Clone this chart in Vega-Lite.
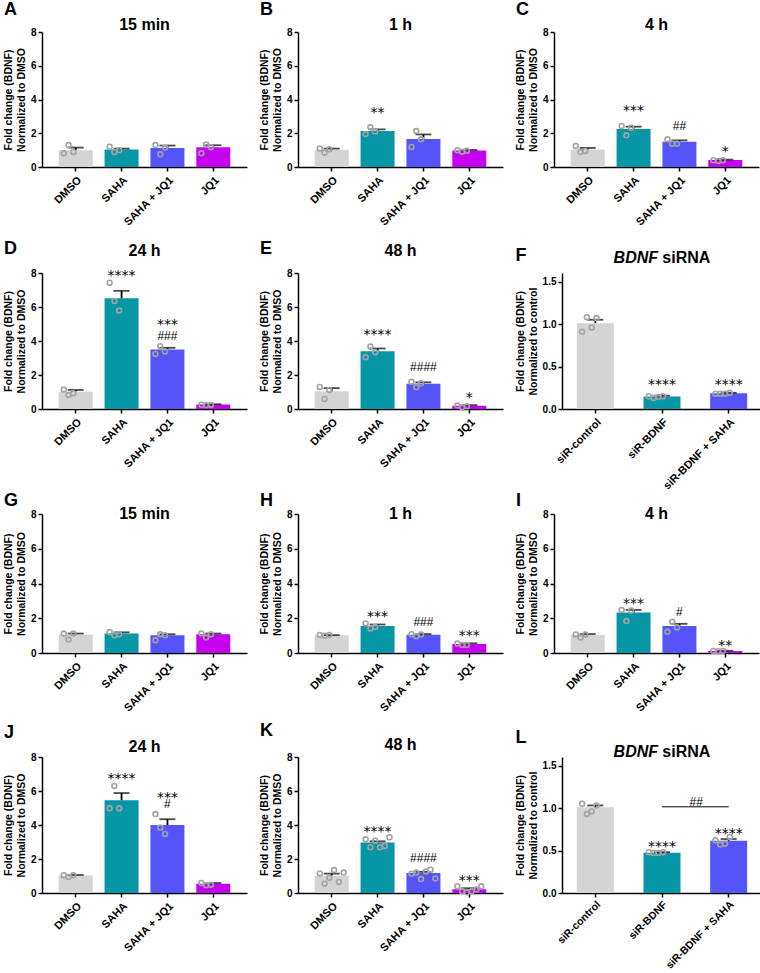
{
"$schema":"https://vega.github.io/schema/vega-lite/v6.json",
"background":"white",
"padding":{"left":3,"top":1,"right":2,"bottom":2},
"config":{
 "font":"Liberation Sans",
 "view":{"stroke":null},
 "axis":{"grid":false,"domainColor":"#000","domainWidth":1.5,"tickColor":"#000","tickWidth":1.5,"tickSize":4,"labelFont":"Liberation Sans","labelFontWeight":"bold","labelColor":"#000","titleFont":"Liberation Sans","titleFontWeight":"bold","titleColor":"#000"},
 "axisX":{"labelAngle":-45,"labelFontSize":11,"labelPadding":3},
 "axisY":{"labelFontSize":10,"titleFontSize":10.5,"titlePadding":4,"labelPadding":2,"labelOverlap":false,"tickCount":10},
 "title":{"font":"Liberation Sans","fontSize":18,"fontWeight":"bold","color":"#000","anchor":"start","frame":"bounds"},
 "bar":{"opacity":1},
 "rule":{"color":"#000","strokeWidth":1.8},
 "tick":{"color":"#000","thickness":1.8},
 "point":{"shape":"circle","filled":false,"color":"#a3a3a3","strokeWidth":1.6,"size":24,"opacity":1},
 "style":{
  "ast":{"font":"DejaVu Sans","fontSize":14,"fill":"#333","baseline":"alphabetic","dy":8},
  "hash":{"font":"Liberation Sans","fontSize":12,"fill":"#111","baseline":"alphabetic","dy":4},
  "ptitle":{"font":"Liberation Sans","fontSize":16,"fontWeight":"bold","fill":"#000","baseline":"middle","align":"center"}
 }
},
"datasets":{
 "bars":[
  {"p":"A","g":"DMSO","m":1.0,"s":0.15},{"p":"A","g":"SAHA","m":1.03,"s":0.06},{"p":"A","g":"SAHA + JQ1","m":1.12,"s":0.15},{"p":"A","g":"JQ1","m":1.17,"s":0.12},
  {"p":"B","g":"DMSO","m":1.02,"s":0.07},{"p":"B","g":"SAHA","m":2.13,"s":0.1,"a":"**","ay":3.43},{"p":"B","g":"SAHA + JQ1","m":1.66,"s":0.27},{"p":"B","g":"JQ1","m":0.98,"s":0.03},
  {"p":"C","g":"DMSO","m":1.04,"s":0.09},{"p":"C","g":"SAHA","m":2.25,"s":0.14,"a":"***","ay":3.57},{"p":"C","g":"SAHA + JQ1","m":1.5,"s":0.08,"h":"##","hy":2.43},{"p":"C","g":"JQ1","m":0.41,"s":0.03,"a":"*","ay":1.14},
  {"p":"D","g":"DMSO","m":1.02,"s":0.1},{"p":"D","g":"SAHA","m":6.52,"s":0.43,"a":"****","ay":8.08},{"p":"D","g":"SAHA + JQ1","m":3.5,"s":0.1,"a":"***","ay":5.15,"h":"###","hy":4.29},{"p":"D","g":"JQ1","m":0.26,"s":0.02},
  {"p":"E","g":"DMSO","m":1.04,"s":0.19},{"p":"E","g":"SAHA","m":3.4,"s":0.16,"a":"****","ay":4.6},{"p":"E","g":"SAHA + JQ1","m":1.49,"s":0.08,"h":"####","hy":2.45},{"p":"E","g":"JQ1","m":0.19,"s":0.04,"a":"*","ay":0.88},
  {"p":"F","g":"siR-control","m":1.01,"s":0.04},{"p":"F","g":"siR-BDNF","m":0.147,"s":0.01,"a":"****","ay":0.324},{"p":"F","g":"siR-BDNF + SAHA","m":0.185,"s":0.005,"a":"****","ay":0.324},
  {"p":"G","g":"DMSO","m":1.05,"s":0.07},{"p":"G","g":"SAHA","m":1.12,"s":0.07},{"p":"G","g":"SAHA + JQ1","m":1.02,"s":0.06},{"p":"G","g":"JQ1","m":1.08,"s":0.04},
  {"p":"H","g":"DMSO","m":1.02,"s":0.01},{"p":"H","g":"SAHA","m":1.56,"s":0.08,"a":"***","ay":2.28},{"p":"H","g":"SAHA + JQ1","m":1.05,"s":0.04,"h":"###","hy":1.8},{"p":"H","g":"JQ1","m":0.52,"s":0.04,"a":"***","ay":1.19},
  {"p":"I","g":"DMSO","m":1.03,"s":0.06},{"p":"I","g":"SAHA","m":2.33,"s":0.15,"a":"***","ay":3.05},{"p":"I","g":"SAHA + JQ1","m":1.55,"s":0.13,"h":"#","hy":2.37},{"p":"I","g":"JQ1","m":0.12,"s":0.01,"a":"**","ay":0.65},
  {"p":"J","g":"DMSO","m":1.03,"s":0.03},{"p":"J","g":"SAHA","m":5.46,"s":0.42,"a":"****","ay":6.94},{"p":"J","g":"SAHA + JQ1","m":4.0,"s":0.34,"a":"***","ay":5.85,"h":"#","hy":5.26},{"p":"J","g":"JQ1","m":0.55,"s":0.04},
  {"p":"K","g":"DMSO","m":1.02,"s":0.12},{"p":"K","g":"SAHA","m":2.97,"s":0.07,"a":"****","ay":3.8},{"p":"K","g":"SAHA + JQ1","m":1.17,"s":0.07,"h":"####","hy":2.08},{"p":"K","g":"JQ1","m":0.22,"s":0.06,"a":"***","ay":0.96},
  {"p":"L","g":"siR-control","m":1.01,"s":0.02},{"p":"L","g":"siR-BDNF","m":0.475,"s":0.005,"a":"****","ay":0.586},{"p":"L","g":"siR-BDNF + SAHA","m":0.615,"s":0.02,"a":"****","ay":0.74}
 ],
 "pts":[
  {"p":"A","g":"DMSO","r":1,"v":0.81},{"p":"A","g":"DMSO","r":2,"v":1.30},{"p":"A","g":"DMSO","r":3,"v":0.89},
  {"p":"A","g":"SAHA","r":1,"v":1.2},{"p":"A","g":"SAHA","r":2,"v":0.89},{"p":"A","g":"SAHA","r":3,"v":1.0},
  {"p":"A","g":"SAHA + JQ1","r":1,"v":1.30},{"p":"A","g":"SAHA + JQ1","r":2,"v":0.75},{"p":"A","g":"SAHA + JQ1","r":3,"v":1.15},
  {"p":"A","g":"JQ1","r":1,"v":0.81},{"p":"A","g":"JQ1","r":2,"v":1.34},{"p":"A","g":"JQ1","r":3,"v":1.17},
  {"p":"B","g":"DMSO","r":1,"v":1.1},{"p":"B","g":"DMSO","r":2,"v":0.85},{"p":"B","g":"DMSO","r":3,"v":1.05},
  {"p":"B","g":"SAHA","r":1,"v":1.95},{"p":"B","g":"SAHA","r":2,"v":2.35},{"p":"B","g":"SAHA","r":3,"v":2.1},
  {"p":"B","g":"SAHA + JQ1","r":1,"v":1.19},{"p":"B","g":"SAHA + JQ1","r":2,"v":2.13},{"p":"B","g":"SAHA + JQ1","r":3,"v":1.64},
  {"p":"B","g":"JQ1","r":1,"v":0.99},{"p":"B","g":"JQ1","r":2,"v":0.91},{"p":"B","g":"JQ1","r":3,"v":0.97},
  {"p":"C","g":"DMSO","r":1,"v":1.25},{"p":"C","g":"DMSO","r":2,"v":0.89},{"p":"C","g":"DMSO","r":3,"v":0.95},
  {"p":"C","g":"SAHA","r":1,"v":2.43},{"p":"C","g":"SAHA","r":2,"v":1.88},{"p":"C","g":"SAHA","r":3,"v":2.33},
  {"p":"C","g":"SAHA + JQ1","r":1,"v":1.64},{"p":"C","g":"SAHA + JQ1","r":2,"v":1.38},{"p":"C","g":"SAHA + JQ1","r":3,"v":1.38},
  {"p":"C","g":"JQ1","r":1,"v":0.4},{"p":"C","g":"JQ1","r":2,"v":0.36},{"p":"C","g":"JQ1","r":3,"v":0.4},
  {"p":"D","g":"DMSO","r":1,"v":1.14},{"p":"D","g":"DMSO","r":2,"v":0.83},{"p":"D","g":"DMSO","r":3,"v":0.92},
  {"p":"D","g":"SAHA","r":1,"v":7.43},{"p":"D","g":"SAHA","r":2,"v":6.35},{"p":"D","g":"SAHA","r":3,"v":5.8},
  {"p":"D","g":"SAHA + JQ1","r":1,"v":3.24},{"p":"D","g":"SAHA + JQ1","r":2,"v":3.69},{"p":"D","g":"SAHA + JQ1","r":3,"v":3.38},
  {"p":"D","g":"JQ1","r":1,"v":0.25},{"p":"D","g":"JQ1","r":2,"v":0.22},{"p":"D","g":"JQ1","r":3,"v":0.24},
  {"p":"E","g":"DMSO","r":1,"v":1.3},{"p":"E","g":"DMSO","r":2,"v":0.59},{"p":"E","g":"DMSO","r":3,"v":1.12},
  {"p":"E","g":"SAHA","r":1,"v":3.05},{"p":"E","g":"SAHA","r":2,"v":3.67},{"p":"E","g":"SAHA","r":3,"v":3.34},
  {"p":"E","g":"SAHA + JQ1","r":1,"v":1.61},{"p":"E","g":"SAHA + JQ1","r":2,"v":1.28},{"p":"E","g":"SAHA + JQ1","r":3,"v":1.51},
  {"p":"E","g":"JQ1","r":1,"v":0.2},{"p":"E","g":"JQ1","r":2,"v":0.1},{"p":"E","g":"JQ1","r":3,"v":0.16},
  {"p":"F","g":"siR-control","r":1,"v":0.91},{"p":"F","g":"siR-control","r":2,"v":1.08},{"p":"F","g":"siR-control","r":3,"v":0.96},{"p":"F","g":"siR-control","r":4,"v":1.07},
  {"p":"F","g":"siR-BDNF","r":1,"v":0.15},{"p":"F","g":"siR-BDNF","r":2,"v":0.13},{"p":"F","g":"siR-BDNF","r":3,"v":0.14},{"p":"F","g":"siR-BDNF","r":4,"v":0.15},
  {"p":"F","g":"siR-BDNF + SAHA","r":1,"v":0.18},{"p":"F","g":"siR-BDNF + SAHA","r":2,"v":0.18},{"p":"F","g":"siR-BDNF + SAHA","r":3,"v":0.18},{"p":"F","g":"siR-BDNF + SAHA","r":4,"v":0.19},
  {"p":"G","g":"DMSO","r":1,"v":1.12},{"p":"G","g":"DMSO","r":2,"v":0.77},{"p":"G","g":"DMSO","r":3,"v":1.12},
  {"p":"G","g":"SAHA","r":1,"v":1.21},{"p":"G","g":"SAHA","r":2,"v":1.02},{"p":"G","g":"SAHA","r":3,"v":1.08},
  {"p":"G","g":"SAHA + JQ1","r":1,"v":0.73},{"p":"G","g":"SAHA + JQ1","r":2,"v":1.08},{"p":"G","g":"SAHA + JQ1","r":3,"v":1.02},
  {"p":"G","g":"JQ1","r":1,"v":1.12},{"p":"G","g":"JQ1","r":2,"v":0.89},{"p":"G","g":"JQ1","r":3,"v":1.08},
  {"p":"H","g":"DMSO","r":1,"v":1.04},{"p":"H","g":"DMSO","r":2,"v":1.0},{"p":"H","g":"DMSO","r":3,"v":1.04},
  {"p":"H","g":"SAHA","r":1,"v":1.7},{"p":"H","g":"SAHA","r":2,"v":1.41},{"p":"H","g":"SAHA","r":3,"v":1.5},
  {"p":"H","g":"SAHA + JQ1","r":1,"v":1.08},{"p":"H","g":"SAHA + JQ1","r":2,"v":0.96},{"p":"H","g":"SAHA + JQ1","r":3,"v":1.06},
  {"p":"H","g":"JQ1","r":1,"v":0.54},{"p":"H","g":"JQ1","r":2,"v":0.46},{"p":"H","g":"JQ1","r":3,"v":0.46},
  {"p":"I","g":"DMSO","r":1,"v":1.07},{"p":"I","g":"DMSO","r":2,"v":0.89},{"p":"I","g":"DMSO","r":3,"v":1.07},
  {"p":"I","g":"SAHA","r":1,"v":2.48},{"p":"I","g":"SAHA","r":2,"v":1.84},{"p":"I","g":"SAHA","r":3,"v":2.44},
  {"p":"I","g":"SAHA + JQ1","r":1,"v":1.22},{"p":"I","g":"SAHA + JQ1","r":2,"v":1.8},{"p":"I","g":"SAHA + JQ1","r":3,"v":1.47},
  {"p":"I","g":"JQ1","r":1,"v":0.12},{"p":"I","g":"JQ1","r":2,"v":0.1},{"p":"I","g":"JQ1","r":3,"v":0.12},
  {"p":"J","g":"DMSO","r":1,"v":1.05},{"p":"J","g":"DMSO","r":2,"v":0.94},{"p":"J","g":"DMSO","r":3,"v":1.05},
  {"p":"J","g":"SAHA","r":1,"v":4.98},{"p":"J","g":"SAHA","r":2,"v":6.3},{"p":"J","g":"SAHA","r":3,"v":4.98},
  {"p":"J","g":"SAHA + JQ1","r":1,"v":4.64},{"p":"J","g":"SAHA + JQ1","r":2,"v":3.86},{"p":"J","g":"SAHA + JQ1","r":3,"v":3.47},
  {"p":"J","g":"JQ1","r":1,"v":0.59},{"p":"J","g":"JQ1","r":2,"v":0.45},{"p":"J","g":"JQ1","r":3,"v":0.49},
  {"p":"K","g":"DMSO","r":1,"v":1.15},{"p":"K","g":"DMSO","r":2,"v":0.55},{"p":"K","g":"DMSO","r":3,"v":0.9},{"p":"K","g":"DMSO","r":4,"v":1.35},{"p":"K","g":"DMSO","r":5,"v":0.65},{"p":"K","g":"DMSO","r":6,"v":1.2},
  {"p":"K","g":"SAHA","r":1,"v":3.16},{"p":"K","g":"SAHA","r":2,"v":2.69},{"p":"K","g":"SAHA","r":3,"v":3.08},{"p":"K","g":"SAHA","r":4,"v":2.69},{"p":"K","g":"SAHA","r":5,"v":2.77},{"p":"K","g":"SAHA","r":6,"v":3.28},
  {"p":"K","g":"SAHA + JQ1","r":1,"v":1.13},{"p":"K","g":"SAHA + JQ1","r":2,"v":1.2},{"p":"K","g":"SAHA + JQ1","r":3,"v":0.82},{"p":"K","g":"SAHA + JQ1","r":4,"v":1.27},{"p":"K","g":"SAHA + JQ1","r":5,"v":1.37},{"p":"K","g":"SAHA + JQ1","r":6,"v":0.86},
  {"p":"K","g":"JQ1","r":1,"v":0.39},{"p":"K","g":"JQ1","r":2,"v":0.1},{"p":"K","g":"JQ1","r":3,"v":0.04},{"p":"K","g":"JQ1","r":4,"v":0.1},{"p":"K","g":"JQ1","r":5,"v":0.2},{"p":"K","g":"JQ1","r":6,"v":0.39},
  {"p":"L","g":"siR-control","r":1,"v":1.05},{"p":"L","g":"siR-control","r":2,"v":0.93},{"p":"L","g":"siR-control","r":3,"v":0.96},{"p":"L","g":"siR-control","r":4,"v":1.03},
  {"p":"L","g":"siR-BDNF","r":1,"v":0.48},{"p":"L","g":"siR-BDNF","r":2,"v":0.47},{"p":"L","g":"siR-BDNF","r":3,"v":0.47},{"p":"L","g":"siR-BDNF","r":4,"v":0.48},
  {"p":"L","g":"siR-BDNF + SAHA","r":1,"v":0.62},{"p":"L","g":"siR-BDNF + SAHA","r":2,"v":0.57},{"p":"L","g":"siR-BDNF + SAHA","r":3,"v":0.58},{"p":"L","g":"siR-BDNF + SAHA","r":4,"v":0.66}
 ],
 "brk":[{"p":"L","g1":"siR-BDNF","g2":"siR-BDNF + SAHA","y":1.014,"h":"##","hy":1.07}],
 "one":[{"k":1}]
},
"spacing":1,
"vconcat":[
{"spacing":12,"vconcat":[
{"spacing":12,"hconcat":[
 {"title":{"text":"A","offset":-2},"width":205,"height":135,
  "encoding":{"x":{"field":"g","type":"nominal","scale":{"type":"band","domain":["DMSO","SAHA","SAHA + JQ1","JQ1"],"paddingInner":0.27,"paddingOuter":0.37},"axis":{"title":null}}},
  "layer":[
   {"data":{"name":"bars"},"transform":[{"filter":"datum.p=='A'"}],"mark":{"type":"bar","width":34},"encoding":{"y":{"field":"m","type":"quantitative","scale":{"domain":[0,8]},"axis":{"values":[0,2,4,6,8],"tickCount":10,"title":["Fold change (BDNF)","Normalized to DMSO"]}},"color":{"field":"g","type":"nominal","scale":{"domain":["DMSO","SAHA","SAHA + JQ1","JQ1","siR-control","siR-BDNF","siR-BDNF + SAHA"],"range":["#d4d4d4","#0796a6","#5454f8","#c400ee","#d4d4d4","#0796a6","#5454f8"]},"legend":null}}},
   {"data":{"name":"bars"},"transform":[{"filter":"datum.p=='A'"},{"calculate":"datum.m+datum.s","as":"hi"}],"mark":"rule","encoding":{"y":{"field":"m","type":"quantitative"},"y2":{"field":"hi"}}},
   {"data":{"name":"bars"},"transform":[{"filter":"datum.p=='A'"},{"calculate":"datum.m+datum.s","as":"hi"}],"mark":{"type":"tick","size":16},"encoding":{"y":{"field":"hi","type":"quantitative"}}},
   {"data":{"name":"pts"},"transform":[{"filter":"datum.p=='A'"}],"mark":"point","encoding":{"y":{"field":"v","type":"quantitative"},"xOffset":{"field":"r","type":"nominal","scale":{"paddingOuter":1.33}}}},
   {"data":{"name":"one"},"mark":{"type":"text","style":"ptitle","text":"15 min"},"encoding":{"x":{"datum":"SAHA","type":"nominal","bandPosition":1.185},"y":{"datum":8.41,"type":"quantitative"}}}
  ]},
 {"title":{"text":"B","offset":-2},"width":205,"height":135,
  "encoding":{"x":{"field":"g","type":"nominal","scale":{"type":"band","domain":["DMSO","SAHA","SAHA + JQ1","JQ1"],"paddingInner":0.27,"paddingOuter":0.37},"axis":{"title":null}}},
  "layer":[
   {"data":{"name":"bars"},"transform":[{"filter":"datum.p=='B'"}],"mark":{"type":"bar","width":34},"encoding":{"y":{"field":"m","type":"quantitative","scale":{"domain":[0,8]},"axis":{"values":[0,2,4,6,8],"tickCount":10,"title":["Fold change (BDNF)","Normalized to DMSO"]}},"color":{"field":"g","type":"nominal","scale":{"domain":["DMSO","SAHA","SAHA + JQ1","JQ1","siR-control","siR-BDNF","siR-BDNF + SAHA"],"range":["#d4d4d4","#0796a6","#5454f8","#c400ee","#d4d4d4","#0796a6","#5454f8"]},"legend":null}}},
   {"data":{"name":"bars"},"transform":[{"filter":"datum.p=='B'"},{"calculate":"datum.m+datum.s","as":"hi"}],"mark":"rule","encoding":{"y":{"field":"m","type":"quantitative"},"y2":{"field":"hi"}}},
   {"data":{"name":"bars"},"transform":[{"filter":"datum.p=='B'"},{"calculate":"datum.m+datum.s","as":"hi"}],"mark":{"type":"tick","size":16},"encoding":{"y":{"field":"hi","type":"quantitative"}}},
   {"data":{"name":"pts"},"transform":[{"filter":"datum.p=='B'"}],"mark":"point","encoding":{"y":{"field":"v","type":"quantitative"},"xOffset":{"field":"r","type":"nominal","scale":{"paddingOuter":1.33}}}},
   {"data":{"name":"bars"},"transform":[{"filter":"datum.p=='B' && datum.a"}],"mark":{"type":"text","style":"ast"},"encoding":{"y":{"field":"ay","type":"quantitative"},"text":{"field":"a"}}},
   {"data":{"name":"one"},"mark":{"type":"text","style":"ptitle","text":"1 h"},"encoding":{"x":{"datum":"SAHA","type":"nominal","bandPosition":1.185},"y":{"datum":8.41,"type":"quantitative"}}}
  ]},
 {"title":{"text":"C","offset":-2},"width":205,"height":135,
  "encoding":{"x":{"field":"g","type":"nominal","scale":{"type":"band","domain":["DMSO","SAHA","SAHA + JQ1","JQ1"],"paddingInner":0.27,"paddingOuter":0.37},"axis":{"title":null}}},
  "layer":[
   {"data":{"name":"bars"},"transform":[{"filter":"datum.p=='C'"}],"mark":{"type":"bar","width":34},"encoding":{"y":{"field":"m","type":"quantitative","scale":{"domain":[0,8]},"axis":{"values":[0,2,4,6,8],"tickCount":10,"title":["Fold change (BDNF)","Normalized to DMSO"]}},"color":{"field":"g","type":"nominal","scale":{"domain":["DMSO","SAHA","SAHA + JQ1","JQ1","siR-control","siR-BDNF","siR-BDNF + SAHA"],"range":["#d4d4d4","#0796a6","#5454f8","#c400ee","#d4d4d4","#0796a6","#5454f8"]},"legend":null}}},
   {"data":{"name":"bars"},"transform":[{"filter":"datum.p=='C'"},{"calculate":"datum.m+datum.s","as":"hi"}],"mark":"rule","encoding":{"y":{"field":"m","type":"quantitative"},"y2":{"field":"hi"}}},
   {"data":{"name":"bars"},"transform":[{"filter":"datum.p=='C'"},{"calculate":"datum.m+datum.s","as":"hi"}],"mark":{"type":"tick","size":16},"encoding":{"y":{"field":"hi","type":"quantitative"}}},
   {"data":{"name":"pts"},"transform":[{"filter":"datum.p=='C'"}],"mark":"point","encoding":{"y":{"field":"v","type":"quantitative"},"xOffset":{"field":"r","type":"nominal","scale":{"paddingOuter":1.33}}}},
   {"data":{"name":"bars"},"transform":[{"filter":"datum.p=='C' && datum.a"}],"mark":{"type":"text","style":"ast"},"encoding":{"y":{"field":"ay","type":"quantitative"},"text":{"field":"a"}}},
   {"data":{"name":"bars"},"transform":[{"filter":"datum.p=='C' && datum.h"}],"mark":{"type":"text","style":"hash"},"encoding":{"y":{"field":"hy","type":"quantitative"},"text":{"field":"h"}}},
   {"data":{"name":"one"},"mark":{"type":"text","style":"ptitle","text":"4 h"},"encoding":{"x":{"datum":"SAHA","type":"nominal","bandPosition":1.185},"y":{"datum":8.41,"type":"quantitative"}}}
  ]}
]},
{"spacing":12,"hconcat":[
 {"title":{"text":"D","offset":-15},"width":205,"height":136,
  "encoding":{"x":{"field":"g","type":"nominal","scale":{"type":"band","domain":["DMSO","SAHA","SAHA + JQ1","JQ1"],"paddingInner":0.27,"paddingOuter":0.37},"axis":{"title":null}}},
  "layer":[
   {"data":{"name":"bars"},"transform":[{"filter":"datum.p=='D'"}],"mark":{"type":"bar","width":34},"encoding":{"y":{"field":"m","type":"quantitative","scale":{"domain":[0,8]},"axis":{"values":[0,2,4,6,8],"tickCount":10,"title":["Fold change (BDNF)","Normalized to DMSO"]}},"color":{"field":"g","type":"nominal","scale":{"domain":["DMSO","SAHA","SAHA + JQ1","JQ1","siR-control","siR-BDNF","siR-BDNF + SAHA"],"range":["#d4d4d4","#0796a6","#5454f8","#c400ee","#d4d4d4","#0796a6","#5454f8"]},"legend":null}}},
   {"data":{"name":"bars"},"transform":[{"filter":"datum.p=='D'"},{"calculate":"datum.m+datum.s","as":"hi"}],"mark":"rule","encoding":{"y":{"field":"m","type":"quantitative"},"y2":{"field":"hi"}}},
   {"data":{"name":"bars"},"transform":[{"filter":"datum.p=='D'"},{"calculate":"datum.m+datum.s","as":"hi"}],"mark":{"type":"tick","size":16},"encoding":{"y":{"field":"hi","type":"quantitative"}}},
   {"data":{"name":"pts"},"transform":[{"filter":"datum.p=='D'"}],"mark":"point","encoding":{"y":{"field":"v","type":"quantitative"},"xOffset":{"field":"r","type":"nominal","scale":{"paddingOuter":1.33}}}},
   {"data":{"name":"bars"},"transform":[{"filter":"datum.p=='D' && datum.a"}],"mark":{"type":"text","style":"ast"},"encoding":{"y":{"field":"ay","type":"quantitative"},"text":{"field":"a"}}},
   {"data":{"name":"bars"},"transform":[{"filter":"datum.p=='D' && datum.h"}],"mark":{"type":"text","style":"hash"},"encoding":{"y":{"field":"hy","type":"quantitative"},"text":{"field":"h"}}},
   {"data":{"name":"one"},"mark":{"type":"text","style":"ptitle","text":"24 h"},"encoding":{"x":{"datum":"SAHA","type":"nominal","bandPosition":1.185},"y":{"datum":9.29,"type":"quantitative"}}}
  ]},
 {"title":{"text":"E","offset":-15},"width":205,"height":136,
  "encoding":{"x":{"field":"g","type":"nominal","scale":{"type":"band","domain":["DMSO","SAHA","SAHA + JQ1","JQ1"],"paddingInner":0.27,"paddingOuter":0.37},"axis":{"title":null}}},
  "layer":[
   {"data":{"name":"bars"},"transform":[{"filter":"datum.p=='E'"}],"mark":{"type":"bar","width":34},"encoding":{"y":{"field":"m","type":"quantitative","scale":{"domain":[0,8]},"axis":{"values":[0,2,4,6,8],"tickCount":10,"title":["Fold change (BDNF)","Normalized to DMSO"]}},"color":{"field":"g","type":"nominal","scale":{"domain":["DMSO","SAHA","SAHA + JQ1","JQ1","siR-control","siR-BDNF","siR-BDNF + SAHA"],"range":["#d4d4d4","#0796a6","#5454f8","#c400ee","#d4d4d4","#0796a6","#5454f8"]},"legend":null}}},
   {"data":{"name":"bars"},"transform":[{"filter":"datum.p=='E'"},{"calculate":"datum.m+datum.s","as":"hi"}],"mark":"rule","encoding":{"y":{"field":"m","type":"quantitative"},"y2":{"field":"hi"}}},
   {"data":{"name":"bars"},"transform":[{"filter":"datum.p=='E'"},{"calculate":"datum.m+datum.s","as":"hi"}],"mark":{"type":"tick","size":16},"encoding":{"y":{"field":"hi","type":"quantitative"}}},
   {"data":{"name":"pts"},"transform":[{"filter":"datum.p=='E'"}],"mark":"point","encoding":{"y":{"field":"v","type":"quantitative"},"xOffset":{"field":"r","type":"nominal","scale":{"paddingOuter":1.33}}}},
   {"data":{"name":"bars"},"transform":[{"filter":"datum.p=='E' && datum.a"}],"mark":{"type":"text","style":"ast"},"encoding":{"y":{"field":"ay","type":"quantitative"},"text":{"field":"a"}}},
   {"data":{"name":"bars"},"transform":[{"filter":"datum.p=='E' && datum.h"}],"mark":{"type":"text","style":"hash"},"encoding":{"y":{"field":"hy","type":"quantitative"},"text":{"field":"h"}}},
   {"data":{"name":"one"},"mark":{"type":"text","style":"ptitle","text":"48 h"},"encoding":{"x":{"datum":"SAHA","type":"nominal","bandPosition":1.185},"y":{"datum":9.29,"type":"quantitative"}}}
  ]},
 {"title":{"text":"F","offset":-15},"width":200,"height":136,
  "encoding":{"x":{"field":"g","type":"nominal","scale":{"type":"band","domain":["siR-control","siR-BDNF","siR-BDNF + SAHA"],"paddingInner":0.46,"paddingOuter":0.23},"axis":{"title":null}}},
  "layer":[
   {"data":{"name":"bars"},"transform":[{"filter":"datum.p=='F'"}],"mark":{"type":"bar","width":37},"encoding":{"y":{"field":"m","type":"quantitative","scale":{"domain":[0,1.5]},"axis":{"values":[0,0.5,1,1.5],"tickCount":10,"format":".1f","title":["Fold change (BDNF)","Normalized to control"]}},"color":{"field":"g","type":"nominal","scale":{"domain":["DMSO","SAHA","SAHA + JQ1","JQ1","siR-control","siR-BDNF","siR-BDNF + SAHA"],"range":["#d4d4d4","#0796a6","#5454f8","#c400ee","#d4d4d4","#0796a6","#5454f8"]},"legend":null}}},
   {"data":{"name":"bars"},"transform":[{"filter":"datum.p=='F'"},{"calculate":"datum.m+datum.s","as":"hi"}],"mark":"rule","encoding":{"y":{"field":"m","type":"quantitative"},"y2":{"field":"hi"}}},
   {"data":{"name":"bars"},"transform":[{"filter":"datum.p=='F'"},{"calculate":"datum.m+datum.s","as":"hi"}],"mark":{"type":"tick","size":16},"encoding":{"y":{"field":"hi","type":"quantitative"}}},
   {"data":{"name":"pts"},"transform":[{"filter":"datum.p=='F'"}],"mark":"point","encoding":{"y":{"field":"v","type":"quantitative"},"xOffset":{"field":"r","type":"nominal","scale":{"paddingOuter":1.2}}}},
   {"data":{"name":"bars"},"transform":[{"filter":"datum.p=='F' && datum.a"}],"mark":{"type":"text","style":"ast"},"encoding":{"y":{"field":"ay","type":"quantitative"},"text":{"field":"a"}}},
   {"data":{"name":"one"},"mark":{"type":"text","style":"ptitle","text":"BDNF","fontStyle":"italic","align":"right"},"encoding":{"x":{"datum":"siR-BDNF","type":"nominal","bandPosition":0.39},"y":{"datum":1.776,"type":"quantitative"}}},
   {"data":{"name":"one"},"mark":{"type":"text","style":"ptitle","text":"siRNA","align":"left"},"encoding":{"x":{"datum":"siR-BDNF","type":"nominal","bandPosition":0.51},"y":{"datum":1.776,"type":"quantitative"}}}
  ]}
]}
]},
{"spacing":8,"vconcat":[
{"spacing":12,"hconcat":[
 {"title":{"text":"G","offset":-4},"width":205,"height":139,
  "encoding":{"x":{"field":"g","type":"nominal","scale":{"type":"band","domain":["DMSO","SAHA","SAHA + JQ1","JQ1"],"paddingInner":0.27,"paddingOuter":0.37},"axis":{"title":null}}},
  "layer":[
   {"data":{"name":"bars"},"transform":[{"filter":"datum.p=='G'"}],"mark":{"type":"bar","width":34},"encoding":{"y":{"field":"m","type":"quantitative","scale":{"domain":[0,8]},"axis":{"values":[0,2,4,6,8],"tickCount":10,"title":["Fold change (BDNF)","Normalized to DMSO"]}},"color":{"field":"g","type":"nominal","scale":{"domain":["DMSO","SAHA","SAHA + JQ1","JQ1","siR-control","siR-BDNF","siR-BDNF + SAHA"],"range":["#d4d4d4","#0796a6","#5454f8","#c400ee","#d4d4d4","#0796a6","#5454f8"]},"legend":null}}},
   {"data":{"name":"bars"},"transform":[{"filter":"datum.p=='G'"},{"calculate":"datum.m+datum.s","as":"hi"}],"mark":"rule","encoding":{"y":{"field":"m","type":"quantitative"},"y2":{"field":"hi"}}},
   {"data":{"name":"bars"},"transform":[{"filter":"datum.p=='G'"},{"calculate":"datum.m+datum.s","as":"hi"}],"mark":{"type":"tick","size":16},"encoding":{"y":{"field":"hi","type":"quantitative"}}},
   {"data":{"name":"pts"},"transform":[{"filter":"datum.p=='G'"}],"mark":"point","encoding":{"y":{"field":"v","type":"quantitative"},"xOffset":{"field":"r","type":"nominal","scale":{"paddingOuter":1.33}}}},
   {"data":{"name":"one"},"mark":{"type":"text","style":"ptitle","text":"15 min"},"encoding":{"x":{"datum":"SAHA","type":"nominal","bandPosition":1.185},"y":{"datum":8.0,"type":"quantitative"}}}
  ]},
 {"title":{"text":"H","offset":-4},"width":205,"height":139,
  "encoding":{"x":{"field":"g","type":"nominal","scale":{"type":"band","domain":["DMSO","SAHA","SAHA + JQ1","JQ1"],"paddingInner":0.27,"paddingOuter":0.37},"axis":{"title":null}}},
  "layer":[
   {"data":{"name":"bars"},"transform":[{"filter":"datum.p=='H'"}],"mark":{"type":"bar","width":34},"encoding":{"y":{"field":"m","type":"quantitative","scale":{"domain":[0,8]},"axis":{"values":[0,2,4,6,8],"tickCount":10,"title":["Fold change (BDNF)","Normalized to DMSO"]}},"color":{"field":"g","type":"nominal","scale":{"domain":["DMSO","SAHA","SAHA + JQ1","JQ1","siR-control","siR-BDNF","siR-BDNF + SAHA"],"range":["#d4d4d4","#0796a6","#5454f8","#c400ee","#d4d4d4","#0796a6","#5454f8"]},"legend":null}}},
   {"data":{"name":"bars"},"transform":[{"filter":"datum.p=='H'"},{"calculate":"datum.m+datum.s","as":"hi"}],"mark":"rule","encoding":{"y":{"field":"m","type":"quantitative"},"y2":{"field":"hi"}}},
   {"data":{"name":"bars"},"transform":[{"filter":"datum.p=='H'"},{"calculate":"datum.m+datum.s","as":"hi"}],"mark":{"type":"tick","size":16},"encoding":{"y":{"field":"hi","type":"quantitative"}}},
   {"data":{"name":"pts"},"transform":[{"filter":"datum.p=='H'"}],"mark":"point","encoding":{"y":{"field":"v","type":"quantitative"},"xOffset":{"field":"r","type":"nominal","scale":{"paddingOuter":1.33}}}},
   {"data":{"name":"bars"},"transform":[{"filter":"datum.p=='H' && datum.a"}],"mark":{"type":"text","style":"ast"},"encoding":{"y":{"field":"ay","type":"quantitative"},"text":{"field":"a"}}},
   {"data":{"name":"bars"},"transform":[{"filter":"datum.p=='H' && datum.h"}],"mark":{"type":"text","style":"hash"},"encoding":{"y":{"field":"hy","type":"quantitative"},"text":{"field":"h"}}},
   {"data":{"name":"one"},"mark":{"type":"text","style":"ptitle","text":"1 h"},"encoding":{"x":{"datum":"SAHA","type":"nominal","bandPosition":1.185},"y":{"datum":8.0,"type":"quantitative"}}}
  ]},
 {"title":{"text":"I","offset":-4},"width":205,"height":139,
  "encoding":{"x":{"field":"g","type":"nominal","scale":{"type":"band","domain":["DMSO","SAHA","SAHA + JQ1","JQ1"],"paddingInner":0.27,"paddingOuter":0.37},"axis":{"title":null}}},
  "layer":[
   {"data":{"name":"bars"},"transform":[{"filter":"datum.p=='I'"}],"mark":{"type":"bar","width":34},"encoding":{"y":{"field":"m","type":"quantitative","scale":{"domain":[0,8]},"axis":{"values":[0,2,4,6,8],"tickCount":10,"title":["Fold change (BDNF)","Normalized to DMSO"]}},"color":{"field":"g","type":"nominal","scale":{"domain":["DMSO","SAHA","SAHA + JQ1","JQ1","siR-control","siR-BDNF","siR-BDNF + SAHA"],"range":["#d4d4d4","#0796a6","#5454f8","#c400ee","#d4d4d4","#0796a6","#5454f8"]},"legend":null}}},
   {"data":{"name":"bars"},"transform":[{"filter":"datum.p=='I'"},{"calculate":"datum.m+datum.s","as":"hi"}],"mark":"rule","encoding":{"y":{"field":"m","type":"quantitative"},"y2":{"field":"hi"}}},
   {"data":{"name":"bars"},"transform":[{"filter":"datum.p=='I'"},{"calculate":"datum.m+datum.s","as":"hi"}],"mark":{"type":"tick","size":16},"encoding":{"y":{"field":"hi","type":"quantitative"}}},
   {"data":{"name":"pts"},"transform":[{"filter":"datum.p=='I'"}],"mark":"point","encoding":{"y":{"field":"v","type":"quantitative"},"xOffset":{"field":"r","type":"nominal","scale":{"paddingOuter":1.33}}}},
   {"data":{"name":"bars"},"transform":[{"filter":"datum.p=='I' && datum.a"}],"mark":{"type":"text","style":"ast"},"encoding":{"y":{"field":"ay","type":"quantitative"},"text":{"field":"a"}}},
   {"data":{"name":"bars"},"transform":[{"filter":"datum.p=='I' && datum.h"}],"mark":{"type":"text","style":"hash"},"encoding":{"y":{"field":"hy","type":"quantitative"},"text":{"field":"h"}}},
   {"data":{"name":"one"},"mark":{"type":"text","style":"ptitle","text":"4 h"},"encoding":{"x":{"datum":"SAHA","type":"nominal","bandPosition":1.185},"y":{"datum":8.0,"type":"quantitative"}}}
  ]}
]},
{"spacing":12,"hconcat":[
 {"title":{"text":"J","offset":-3},"width":205,"height":136,
  "encoding":{"x":{"field":"g","type":"nominal","scale":{"type":"band","domain":["DMSO","SAHA","SAHA + JQ1","JQ1"],"paddingInner":0.27,"paddingOuter":0.37},"axis":{"title":null}}},
  "layer":[
   {"data":{"name":"bars"},"transform":[{"filter":"datum.p=='J'"}],"mark":{"type":"bar","width":34},"encoding":{"y":{"field":"m","type":"quantitative","scale":{"domain":[0,8]},"axis":{"values":[0,2,4,6,8],"tickCount":10,"title":["Fold change (BDNF)","Normalized to DMSO"]}},"color":{"field":"g","type":"nominal","scale":{"domain":["DMSO","SAHA","SAHA + JQ1","JQ1","siR-control","siR-BDNF","siR-BDNF + SAHA"],"range":["#d4d4d4","#0796a6","#5454f8","#c400ee","#d4d4d4","#0796a6","#5454f8"]},"legend":null}}},
   {"data":{"name":"bars"},"transform":[{"filter":"datum.p=='J'"},{"calculate":"datum.m+datum.s","as":"hi"}],"mark":"rule","encoding":{"y":{"field":"m","type":"quantitative"},"y2":{"field":"hi"}}},
   {"data":{"name":"bars"},"transform":[{"filter":"datum.p=='J'"},{"calculate":"datum.m+datum.s","as":"hi"}],"mark":{"type":"tick","size":16},"encoding":{"y":{"field":"hi","type":"quantitative"}}},
   {"data":{"name":"pts"},"transform":[{"filter":"datum.p=='J'"}],"mark":"point","encoding":{"y":{"field":"v","type":"quantitative"},"xOffset":{"field":"r","type":"nominal","scale":{"paddingOuter":1.33}}}},
   {"data":{"name":"bars"},"transform":[{"filter":"datum.p=='J' && datum.a"}],"mark":{"type":"text","style":"ast"},"encoding":{"y":{"field":"ay","type":"quantitative"},"text":{"field":"a"}}},
   {"data":{"name":"bars"},"transform":[{"filter":"datum.p=='J' && datum.h"}],"mark":{"type":"text","style":"hash"},"encoding":{"y":{"field":"hy","type":"quantitative"},"text":{"field":"h"}}},
   {"data":{"name":"one"},"mark":{"type":"text","style":"ptitle","text":"24 h"},"encoding":{"x":{"datum":"SAHA","type":"nominal","bandPosition":1.185},"y":{"datum":8.59,"type":"quantitative"}}}
  ]},
 {"title":{"text":"K","offset":-3},"width":205,"height":136,
  "encoding":{"x":{"field":"g","type":"nominal","scale":{"type":"band","domain":["DMSO","SAHA","SAHA + JQ1","JQ1"],"paddingInner":0.27,"paddingOuter":0.37},"axis":{"title":null}}},
  "layer":[
   {"data":{"name":"bars"},"transform":[{"filter":"datum.p=='K'"}],"mark":{"type":"bar","width":34},"encoding":{"y":{"field":"m","type":"quantitative","scale":{"domain":[0,8]},"axis":{"values":[0,2,4,6,8],"tickCount":10,"title":["Fold change (BDNF)","Normalized to DMSO"]}},"color":{"field":"g","type":"nominal","scale":{"domain":["DMSO","SAHA","SAHA + JQ1","JQ1","siR-control","siR-BDNF","siR-BDNF + SAHA"],"range":["#d4d4d4","#0796a6","#5454f8","#c400ee","#d4d4d4","#0796a6","#5454f8"]},"legend":null}}},
   {"data":{"name":"bars"},"transform":[{"filter":"datum.p=='K'"},{"calculate":"datum.m+datum.s","as":"hi"}],"mark":"rule","encoding":{"y":{"field":"m","type":"quantitative"},"y2":{"field":"hi"}}},
   {"data":{"name":"bars"},"transform":[{"filter":"datum.p=='K'"},{"calculate":"datum.m+datum.s","as":"hi"}],"mark":{"type":"tick","size":16},"encoding":{"y":{"field":"hi","type":"quantitative"}}},
   {"data":{"name":"pts"},"transform":[{"filter":"datum.p=='K'"}],"mark":"point","encoding":{"y":{"field":"v","type":"quantitative"},"xOffset":{"field":"r","type":"nominal","scale":{"paddingOuter":1.5}}}},
   {"data":{"name":"bars"},"transform":[{"filter":"datum.p=='K' && datum.a"}],"mark":{"type":"text","style":"ast"},"encoding":{"y":{"field":"ay","type":"quantitative"},"text":{"field":"a"}}},
   {"data":{"name":"bars"},"transform":[{"filter":"datum.p=='K' && datum.h"}],"mark":{"type":"text","style":"hash"},"encoding":{"y":{"field":"hy","type":"quantitative"},"text":{"field":"h"}}},
   {"data":{"name":"one"},"mark":{"type":"text","style":"ptitle","text":"48 h"},"encoding":{"x":{"datum":"SAHA","type":"nominal","bandPosition":1.185},"y":{"datum":8.7,"type":"quantitative"}}}
  ]},
 {"title":{"text":"L","offset":-3},"width":200,"height":136,
  "encoding":{"x":{"field":"g","type":"nominal","scale":{"type":"band","domain":["siR-control","siR-BDNF","siR-BDNF + SAHA"],"paddingInner":0.46,"paddingOuter":0.23},"axis":{"title":null,"labelFontSize":10.5,"labelPadding":2}}},
  "layer":[
   {"data":{"name":"bars"},"transform":[{"filter":"datum.p=='L'"}],"mark":{"type":"bar","width":37},"encoding":{"y":{"field":"m","type":"quantitative","scale":{"domain":[0,1.5]},"axis":{"values":[0,0.5,1,1.5],"tickCount":10,"format":".1f","title":["Fold change (BDNF)","Normalized to control"]}},"color":{"field":"g","type":"nominal","scale":{"domain":["DMSO","SAHA","SAHA + JQ1","JQ1","siR-control","siR-BDNF","siR-BDNF + SAHA"],"range":["#d4d4d4","#0796a6","#5454f8","#c400ee","#d4d4d4","#0796a6","#5454f8"]},"legend":null}}},
   {"data":{"name":"bars"},"transform":[{"filter":"datum.p=='L'"},{"calculate":"datum.m+datum.s","as":"hi"}],"mark":"rule","encoding":{"y":{"field":"m","type":"quantitative"},"y2":{"field":"hi"}}},
   {"data":{"name":"bars"},"transform":[{"filter":"datum.p=='L'"},{"calculate":"datum.m+datum.s","as":"hi"}],"mark":{"type":"tick","size":16},"encoding":{"y":{"field":"hi","type":"quantitative"}}},
   {"data":{"name":"pts"},"transform":[{"filter":"datum.p=='L'"}],"mark":"point","encoding":{"y":{"field":"v","type":"quantitative"},"xOffset":{"field":"r","type":"nominal","scale":{"paddingOuter":1.2}}}},
   {"data":{"name":"bars"},"transform":[{"filter":"datum.p=='L' && datum.a"}],"mark":{"type":"text","style":"ast"},"encoding":{"y":{"field":"ay","type":"quantitative"},"text":{"field":"a"}}},
   {"data":{"name":"brk"},"mark":{"type":"rule","strokeWidth":1},"encoding":{"x":{"field":"g1","type":"nominal","bandPosition":0.5},"x2":{"field":"g2","bandPosition":0.5},"y":{"field":"y","type":"quantitative"}}},
   {"data":{"name":"brk"},"mark":{"type":"text","style":"hash"},"encoding":{"x":{"field":"g1","type":"nominal","bandPosition":1.45},"y":{"field":"hy","type":"quantitative"},"text":{"field":"h"}}},
   {"data":{"name":"one"},"mark":{"type":"text","style":"ptitle","text":"BDNF","fontStyle":"italic","align":"right"},"encoding":{"x":{"datum":"siR-BDNF","type":"nominal","bandPosition":0.39},"y":{"datum":1.654,"type":"quantitative"}}},
   {"data":{"name":"one"},"mark":{"type":"text","style":"ptitle","text":"siRNA","align":"left"},"encoding":{"x":{"datum":"siR-BDNF","type":"nominal","bandPosition":0.51},"y":{"datum":1.654,"type":"quantitative"}}}
  ]}
]}
]}
]
}
